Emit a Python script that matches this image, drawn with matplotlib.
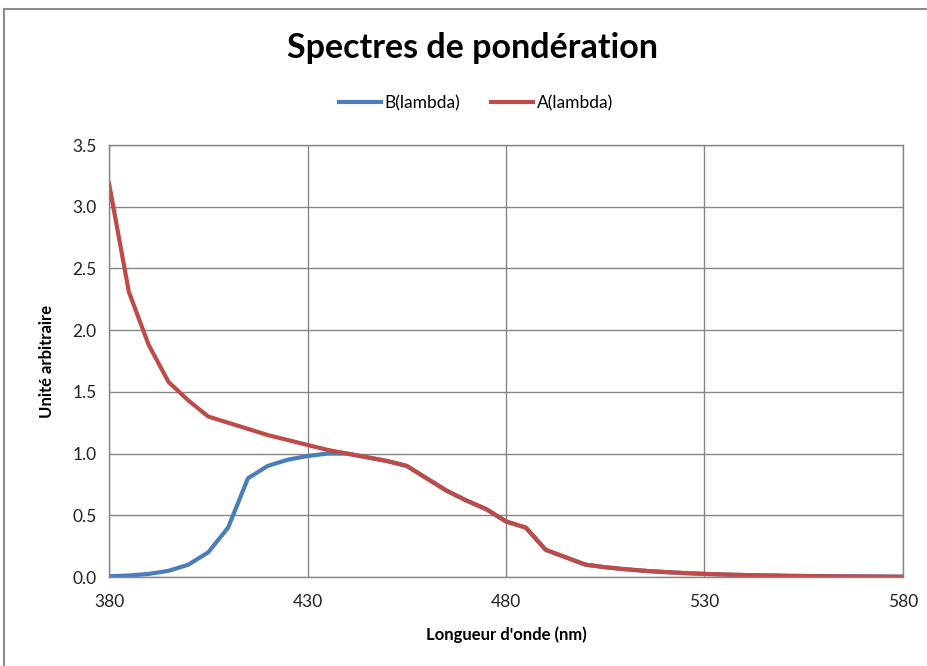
import numpy as np
import matplotlib.pyplot as plt
from matplotlib.patches import Rectangle

# Weighting spectra, 5 nm steps
wavelength = list(range(380, 585, 5))
b_lambda = [0.006, 0.012, 0.025, 0.05, 0.10, 0.20, 0.40, 0.80, 0.90, 0.95,
            0.98, 1.00, 1.00, 0.97, 0.94, 0.90, 0.80, 0.70, 0.62, 0.55,
            0.45, 0.40, 0.22, 0.16, 0.10, 0.079, 0.063, 0.050, 0.040, 0.032,
            0.025, 0.020, 0.016, 0.013, 0.010, 0.008, 0.006, 0.005, 0.004,
            0.003, 0.002]
a_lambda = [3.19, 2.31, 1.88, 1.58, 1.43, 1.30, 1.25, 1.20, 1.15, 1.11,
            1.07, 1.03, 1.00, 0.97, 0.94, 0.90, 0.80, 0.70, 0.62, 0.55,
            0.45, 0.40, 0.22, 0.16, 0.10, 0.079, 0.063, 0.050, 0.040, 0.032,
            0.025, 0.020, 0.016, 0.013, 0.010, 0.008, 0.006, 0.005, 0.004,
            0.003, 0.002]
x_ticks = [380, 430, 480, 530, 580]
y_ticks = np.arange(0, 3.51, 0.5)

BLUE = "#4A7EBB"
RED = "#BE4B48"
GRID = "#868686"

plt.rcParams['font.family'] = ['Lato', 'DejaVu Sans']

W, H = 928, 666
fig = plt.figure(figsize=(W / 100, H / 100), dpi=100)

# chart frame (runs past the right and bottom edges)
fig.patches.append(Rectangle((4 / W, -0.2), 1.2, 1.2 - 9 / H, transform=fig.transFigure,
                             fill=False, edgecolor="#8c8c8c", linewidth=1.5))

ax = fig.add_axes([109 / W, 1 - 577 / H, (903 - 109) / W, (577 - 145) / H])
ax.plot(wavelength, b_lambda, color=BLUE, lw=3.0, label="B(lambda)",
        solid_joinstyle='round')
ax.plot(wavelength, a_lambda, color=RED, lw=3.0, label="A(lambda)",
        solid_joinstyle='round')

ax.set_xlim(380, 580)
ax.set_ylim(0, 3.5)
ax.set_xticks(x_ticks)
ax.set_yticks(y_ticks)
ax.set_yticklabels([f"{v:.1f}" for v in y_ticks])
ax.grid(True, color=GRID, lw=1)
ax.set_axisbelow(True)
for s in ax.spines.values():
    s.set_color(GRID)
    s.set_linewidth(1)
ax.tick_params(length=0, labelsize=12.5, colors="#222222", pad=9)
ax.tick_params(axis='x', pad=12)

ax.set_xlabel("Longueur d'onde (nm)", fontsize=12, fontweight='bold', labelpad=12)
ax.set_ylabel("Unité arbitraire", fontsize=12, fontweight='bold', labelpad=12)

fig.text(473 / W, 1 - 48 / H, "Spectres de pondération", fontsize=24.5,
         fontweight='bold', ha='center', va='center')
ax.legend(loc='center', bbox_to_anchor=(476 / W, 1 - 103 / H),
          bbox_transform=fig.transFigure, ncol=2, frameon=False, fontsize=12.5,
          handlelength=2.4, handletextpad=0.2, columnspacing=1.8)

fig.savefig("out.png", dpi=100)
